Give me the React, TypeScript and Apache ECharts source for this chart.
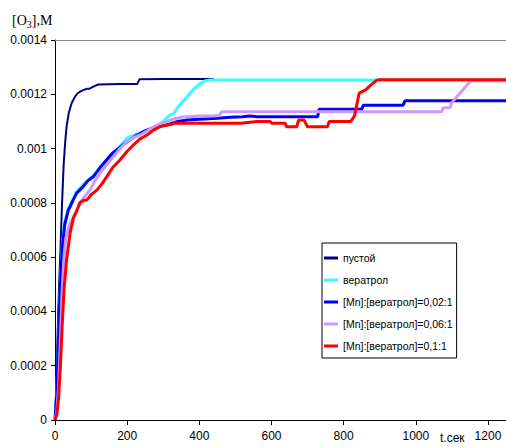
import React, { useEffect, useRef } from "react";
import * as echarts from "echarts";

const xTicks = [0, 200, 400, 600, 800, 1000, 1200];
const yTicks = [0, 0.0002, 0.0004, 0.0006, 0.0008, 0.001, 0.0012, 0.0014];
const seriesNames = [
  "пустой",
  "вератрол",
  "[Mn]:[вератрол]=0,02:1",
  "[Mn]:[вератрол]=0,06:1",
  "[Mn]:[вератрол]=0,1:1",
];

const emptyT = [0, 3, 6, 9, 12, 15, 19, 24, 28, 32, 38, 46, 55, 62, 70, 79, 88, 95, 106, 120, 180, 228, 234, 300, 440];
const emptyC = [0, 0.0001, 0.00025, 0.0004, 0.00052, 0.00062, 0.00078, 0.00094, 0.00102, 0.00108, 0.00113, 0.001167, 0.00119, 0.001203, 0.00121, 0.001216, 0.00122, 0.00122, 0.001228, 0.001236, 0.001238, 0.001238, 0.001255, 0.001256, 0.001256];

const veraT = [0, 5, 10, 15, 20, 27, 37, 45, 60, 80, 106, 143, 175, 199, 230, 255, 280, 300, 315, 329, 345, 366, 385, 403, 418, 430, 1253];
const veraC = [0, 0.0001, 0.0003, 0.0005, 0.00064, 0.00073, 0.00078, 0.0008, 0.00084, 0.00087, 0.0009, 0.00096, 0.001, 0.001038, 0.001055, 0.001068, 0.00108, 0.0011, 0.00112, 0.00113, 0.00116, 0.001191, 0.00122, 0.00124, 0.00125, 0.001253, 0.001253];

const mn002T = [0, 5, 10, 15, 20, 27, 37, 42, 50, 60, 78, 90, 106, 125, 143, 157, 171, 190, 208, 225, 245, 262, 282, 296, 310, 340, 366, 400, 450, 486, 520, 540, 560, 600, 680, 728, 732, 800, 850, 855, 965, 970, 1253];
const mn002C = [0, 0.0001, 0.0003, 0.0005, 0.00063, 0.00072, 0.000774, 0.000786, 0.00081, 0.000836, 0.00086, 0.00088, 0.000896, 0.00093, 0.000958, 0.00098, 0.000995, 0.001015, 0.001032, 0.001048, 0.001062, 0.001072, 0.00108, 0.001085, 0.001087, 0.0011, 0.001105, 0.001108, 0.001112, 0.001115, 0.001117, 0.00112, 0.001117, 0.001117, 0.001117, 0.001117, 0.001145, 0.001145, 0.001145, 0.00116, 0.00116, 0.001176, 0.001176];

const mn006T = [0, 5, 10, 15, 20, 25, 30, 40, 51, 60, 69, 80, 97, 110, 125, 143, 162, 180, 199, 217, 236, 255, 273, 290, 310, 330, 356, 380, 400, 440, 455, 462, 1072, 1076, 1095, 1100, 1120, 1148, 1155, 1253];
const mn006C = [0, 0.00003, 0.00012, 0.0003, 0.00048, 0.0006, 0.00067, 0.00072, 0.000749, 0.00077, 0.0008, 0.00082, 0.000847, 0.00088, 0.00091, 0.00094, 0.00097, 0.001, 0.001025, 0.00104, 0.00105, 0.001065, 0.00108, 0.00109, 0.0011, 0.00111, 0.001117, 0.001118, 0.00112, 0.00112, 0.001122, 0.001136, 0.001136, 0.00115, 0.00115, 0.00117, 0.0012, 0.001243, 0.00125, 0.00125];

const mn01T = [0, 5, 10, 15, 20, 25, 32, 42, 51, 60, 69, 80, 88, 100, 116, 130, 143, 160, 180, 200, 217, 235, 255, 273, 290, 310, 325, 330, 400, 514, 560, 597, 600, 638, 642, 670, 675, 690, 700, 755, 760, 820, 830, 843, 861, 875, 890, 898, 1253];
const mn01C = [0, 0.00002, 0.00008, 0.0002, 0.00035, 0.00048, 0.00059, 0.00069, 0.000744, 0.00077, 0.0008, 0.00081, 0.00081, 0.00083, 0.000847, 0.00087, 0.000896, 0.00093, 0.000958, 0.00099, 0.001013, 0.001035, 0.00105, 0.001068, 0.00108, 0.001087, 0.00109, 0.001093, 0.001093, 0.001093, 0.0011, 0.0011, 0.001093, 0.001093, 0.00108, 0.00108, 0.001105, 0.001105, 0.00108, 0.00108, 0.0011, 0.0011, 0.00112, 0.001204, 0.001216, 0.001234, 0.00125, 0.001254, 0.001254];

const zip = (t: number[], c: number[]) => t.map((v, i) => [v, c[i]]);

const FONT = "'Liberation Sans', Arial, sans-serif";
const SERIF = "'Liberation Serif', 'Times New Roman', serif";

export default function App() {
  const ref = useRef<HTMLDivElement>(null);
  useEffect(() => {
    if (!ref.current) return;
    const chart = echarts.init(ref.current, null, { renderer: "svg" });
    const colors = ["#000080", "#33FFFF", "#0000FF", "#CC99FF", "#FF0000"];
    const widths = [2, 3, 3, 3, 3];
    const datasets = [
      zip(emptyT, emptyC),
      zip(veraT, veraC),
      zip(mn002T, mn002C),
      zip(mn006T, mn006C),
      zip(mn01T, mn01C),
    ];
    chart.setOption({
      animation: false,
      backgroundColor: "#fff",
      title: {
        text: "{a|[O}{b|3}{a|],M}",
        left: 7,
        top: 6,
        textStyle: {
          fontWeight: "normal",
          rich: {
            a: { fontFamily: SERIF, fontSize: 14, fontWeight: "normal", color: "#000", lineHeight: 18 },
            b: { fontFamily: SERIF, fontSize: 10, fontWeight: "normal", color: "#000", lineHeight: 18, padding: [8, 0, 0, 0] },
          },
        },
      },
      grid: { left: 55, top: 40, right: 0, bottom: 28, containLabel: false },
      legend: {
        orient: "vertical",
        left: 322,
        top: 243,
        padding: [8, 4, 5, 2],
        itemGap: 8,
        itemWidth: 14,
        itemHeight: 3,
        icon: "rect",
        borderColor: "#000",
        borderWidth: 1,
        backgroundColor: "#fff",
        borderRadius: 0,
        textStyle: { fontFamily: FONT, fontSize: 10.5, color: "#000", lineHeight: 14 },
        data: seriesNames,
      },
      xAxis: [
        {
          type: "value",
          min: 0,
          max: 1250,
          interval: 200,
          splitLine: { show: false },
          axisLine: { lineStyle: { color: "#000", width: 1 } },
          axisTick: { customValues: xTicks, length: 5, lineStyle: { color: "#000" } },
          axisLabel: {
            customValues: xTicks,
            margin: 10,
            fontFamily: FONT,
            fontSize: 12,
            color: "#000",
            formatter: (v: number) => String(v),
          },
        },
        {
          type: "value",
          position: "top",
          min: 0,
          max: 1250,
          splitLine: { show: false },
          axisLine: { show: true, lineStyle: { color: "#888", width: 1 } },
          axisTick: { show: false },
          axisLabel: { show: false },
        },
      ],
      yAxis: {
        type: "value",
        min: 0,
        max: 0.0014,
        interval: 0.0002,
        splitLine: { show: false },
        axisLine: { show: true, lineStyle: { color: "#000", width: 1 } },
        axisTick: { show: true, length: 4, lineStyle: { color: "#000" } },
        axisLabel: {
          customValues: yTicks,
          margin: 8,
          fontFamily: FONT,
          fontSize: 12,
          color: "#000",
          formatter: (v: number) => (v === 0 ? "0" : String(Number(v.toFixed(4)))),
        },
      },
      graphic: [
        {
          type: "text",
          left: 440,
          top: 432,
          style: { text: "t.сек", fontFamily: FONT, fontSize: 12, fill: "#000" },
        },
      ],
      series: seriesNames.map((name, i) => ({
        name,
        type: "line",
        xAxisIndex: 0,
        data: datasets[i],
        showSymbol: false,
        symbol: "none",
        color: colors[i],
        lineStyle: { color: colors[i], width: widths[i] },
      })),
    });
    return () => chart.dispose();
  }, []);
  return <div ref={ref} style={{ width: 506, height: 448, position: "absolute", left: 0, top: 0 }} />;
}
